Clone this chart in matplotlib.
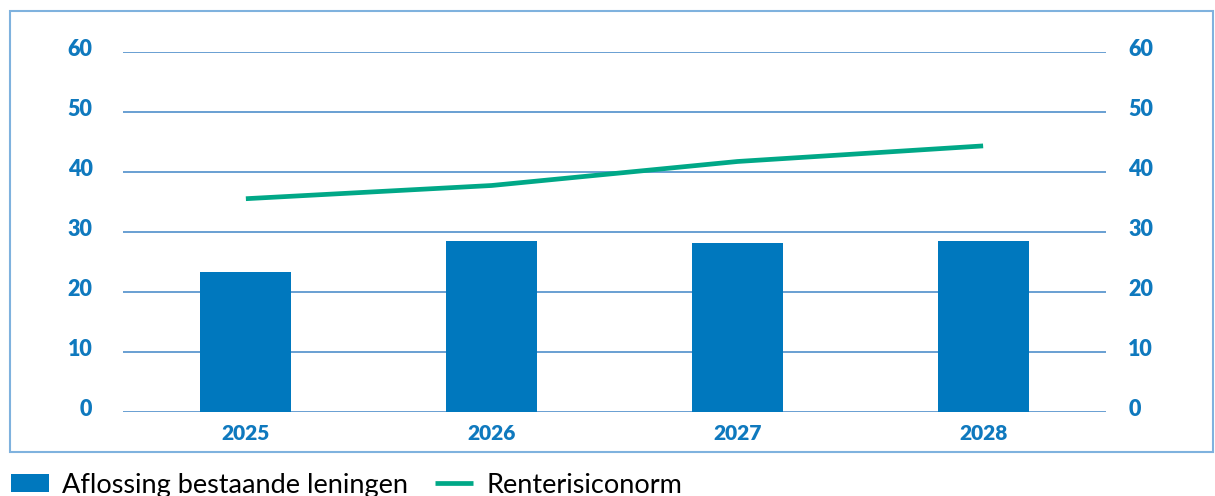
import matplotlib
matplotlib.use("Agg")
import matplotlib.pyplot as plt
import matplotlib.transforms as mtransforms
from matplotlib.patches import Rectangle
import numpy as np

years = ["2025", "2026", "2027", "2028"]
aflossing = [23.3, 28.4, 28.1, 28.4]
renterisiconorm = [35.5, 37.7, 41.7, 44.3]
yticks = [0, 10, 20, 30, 40, 50, 60]

BAR = "#0078BE"
LINE = "#00A887"
TICK = "#0F79BE"
GRID = "#4F8FCB"
FRAME = "#7FB2DE"
FONT = "Lato"

fig = plt.figure(figsize=(12.15, 4.96), dpi=100)
ax = fig.add_axes([123/1215, (496-411.7)/496, (1106-123)/1215, 360/496])

x = np.arange(len(years))
bars = ax.bar(x, aflossing, width=0.37, color=BAR, zorder=2, label="Aflossing bestaande leningen")
line, = ax.plot(x, renterisiconorm, color=LINE, linewidth=3.4, zorder=3, label="Renterisiconorm",
                solid_capstyle="butt")

ax.set_xlim(-0.5, 3.5)
ax.set_ylim(0, 60)
ax.set_yticks(yticks)
for v in yticks:
    ax.axhline(v, color=GRID, linewidth=1.2, zorder=1)
ax.set_xticks(x)
ax.set_xticklabels(years, fontsize=15, fontweight="heavy", color=TICK, family=FONT)
ax.set_yticklabels([str(v) for v in yticks], fontsize=15.5, fontweight="heavy", color=TICK, family=FONT)
ax.tick_params(axis="x", length=0, pad=9)
ax.tick_params(axis="y", length=0, pad=22)
for s in ax.spines.values():
    s.set_visible(False)

ax2 = ax.twinx()
ax2.set_ylim(0, 60)
ax2.set_yticks(yticks)
ax2.set_yticklabels([str(v) for v in yticks], fontsize=15.5, fontweight="heavy", color=TICK, family=FONT)
ax2.tick_params(axis="y", length=0, pad=16)
for s in ax2.spines.values():
    s.set_visible(False)

shift = mtransforms.ScaledTranslation(0, 4/100, fig.dpi_scale_trans)
for lab in ax.get_yticklabels() + ax2.get_yticklabels():
    lab.set_transform(lab.get_transform() + shift)

fig.patches.append(Rectangle((9.5/1215, (496-452)/496), (1213-9.5)/1215, (452-10.5)/496,
                             transform=fig.transFigure, fill=False, edgecolor=FRAME,
                             linewidth=1.5))

leg = fig.legend([bars, line], ["Aflossing bestaande leningen", "Renterisiconorm"],
                 loc="lower left", bbox_to_anchor=(0.0, -0.025), ncol=2,
                 frameon=False, prop={"family": FONT, "size": 19.5},
                 handlelength=1.4, handleheight=0.6, handletextpad=0.5,
                 columnspacing=1.0, borderaxespad=0.0)

fig.savefig("out.png", dpi=100)
